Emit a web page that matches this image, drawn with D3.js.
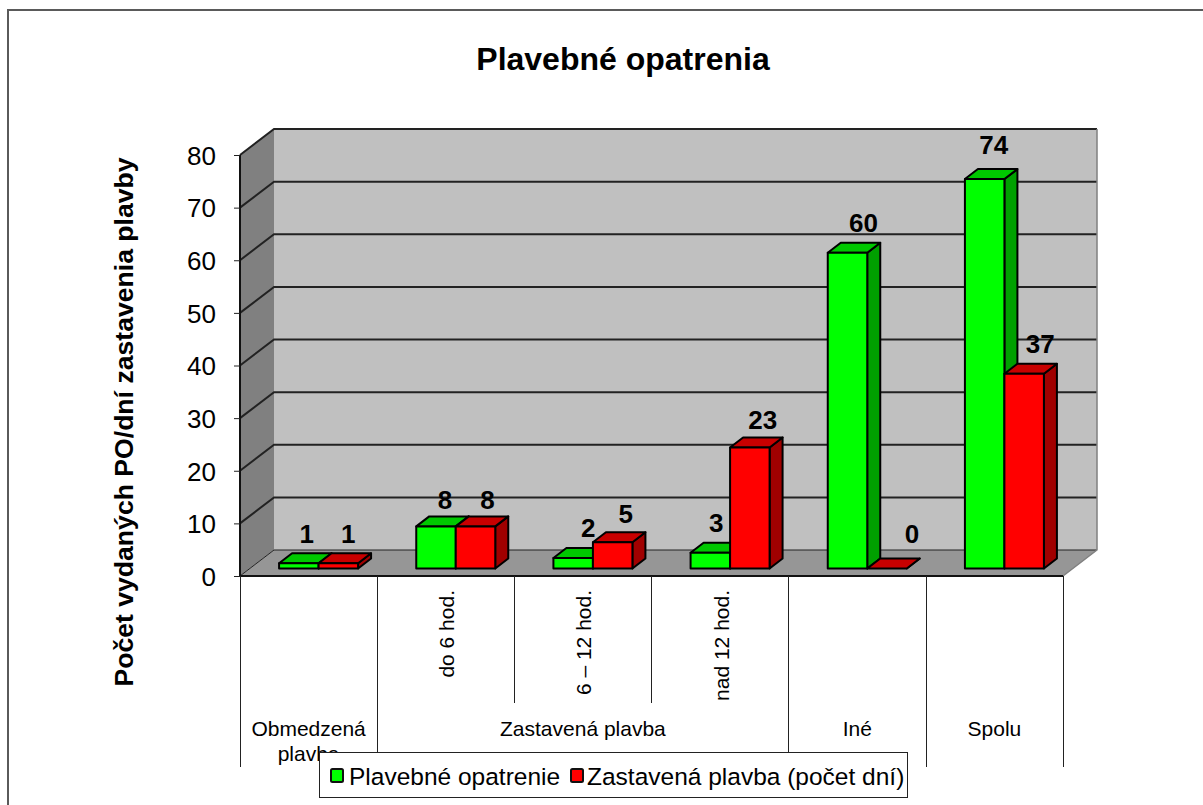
<!DOCTYPE html>
<html>
<head>
<meta charset="utf-8">
<script src="https://cdn.jsdelivr.net/npm/d3@7"></script>
<style>
html,body{margin:0;padding:0;background:#fff;overflow:hidden;}
text{font-family:"Liberation Sans",Arial,sans-serif;fill:#000;}
</style>
</head>
<body>
<div id="chart"></div>
<script>
var categories=["Obmedzená plavba","do 6 hod.","6 – 12 hod.","nad 12 hod.","Iné","Spolu"];
var seriesNames=["Plavebné opatrenie","Zastavená plavba (počet dní)"];
var opatrenie=[1,8,2,3,60,74];
var zastavena=[1,8,5,23,0,37];
var yTicks=[0,10,20,30,40,50,60,70,80];

var svg=d3.select("#chart").append("svg").attr("width",1203).attr("height",805).style("display","block");

var x=d3.scaleBand().domain(categories).range([240,1063]);
var y=d3.scaleLinear().domain([0,80]).range([576,155]);

// 3d offsets: wall depth and bar depth
var wallDx=34,wallDy=-26,barOffX=10,barOffY=-7.5,barDx=13,barDy=-10;
var barW=39.5;
var colors=[{front:"#00ff00",top:"#00c800",side:"#00a000"},{front:"#ff0000",top:"#c80000",side:"#a00000"}];

function poly(pts,fill,stroke,sw){
    return svg.append("polygon").attr("points",pts.map(function(p){return p.join(",");}).join(" "))
        .attr("fill",fill).attr("stroke",stroke||"none").attr("stroke-width",sw||0).attr("stroke-linejoin","round");
}

// chart frame, runs off the right and bottom of the picture
svg.append("rect").attr("x",8).attr("y",10).attr("width",1300).attr("height",900).attr("fill","#fff").attr("stroke","#5a5a5a").attr("stroke-width",2);

var x0=x.range()[0],x1=x.range()[1],yb=y(0),yt=y(80);

// walls
poly([[x0,yt],[x0+wallDx,yt+wallDy],[x0+wallDx,yb+wallDy],[x0,yb]],"#808080");
poly([[x0+wallDx,yt+wallDy],[x1+wallDx,yt+wallDy],[x1+wallDx,yb+wallDy],[x0+wallDx,yb+wallDy]],"#c0c0c0");
poly([[x0,yb],[x0+wallDx,yb+wallDy],[x1+wallDx,yb+wallDy],[x1,yb]],"#969696");

// grid lines
yTicks.forEach(function(t){
    var yy=y(t);
    svg.append("path").attr("d","M"+x0+","+yy+"L"+(x0+wallDx)+","+(yy+wallDy)+"L"+(x1+wallDx)+","+(yy+wallDy))
        .attr("fill","none").attr("stroke","#222").attr("stroke-width",t==0?1:2);
});
svg.append("path").attr("d","M"+(x1+wallDx)+","+(yt+wallDy)+"V"+(yb+wallDy)+"L"+x1+","+yb)
    .attr("fill","none").attr("stroke","#808080").attr("stroke-width",1.5);
svg.append("path").attr("d","M"+x0+","+yt+"V"+yb+"H"+x1).attr("fill","none").attr("stroke","#111").attr("stroke-width",2);

// y axis
var yAxis=d3.axisLeft(y).tickValues(yTicks).tickSize(6).tickPadding(18).tickSizeOuter(0);
var yg=svg.append("g").attr("transform","translate(240,1)").call(yAxis);
yg.select(".domain").remove();
yg.selectAll("text").style("font-size","26px").style("font-family","Liberation Sans");
yg.selectAll("line").attr("stroke","#222").attr("transform","translate(0,-1)");

// bars
[opatrenie,zastavena].forEach(function(vals,s){
    var c=colors[s];
    vals.forEach(function(v,i){
        var l=x(categories[i])+(x.bandwidth()-2*barW)/2+barOffX+s*barW;
        var r=l+barW,b=yb+barOffY,t=y(v)+barOffY;
        poly([[r,t],[r+barDx,t+barDy],[r+barDx,b+barDy],[r,b]],c.side,"#000",2);
        poly([[l,t],[l+barDx,t+barDy],[r+barDx,t+barDy],[r,t]],c.top,"#000",2);
        if(v>0) poly([[l,t],[r,t],[r,b],[l,b]],c.front,"#000",2);
    });
});

// value labels, nudged by hand like the original chart
var labelDx=[[8,10],[9,12],[15,13],[6,13],[16,25],[9,16]];
var labelDy=[[2,2],[5,5],[1,3],[1,4],[1,-4],[-3,1]];
[opatrenie,zastavena].forEach(function(vals,s){
    vals.forEach(function(v,i){
        var l=x(categories[i])+(x.bandwidth()-2*barW)/2+barOffX+s*barW;
        svg.append("text").attr("x",l+barW/2+labelDx[i][s]).attr("y",y(v)+barOffY-22+labelDy[i][s])
            .attr("text-anchor","middle").style("font-size","26px").style("font-weight","bold").text(v);
    });
});

// category separators
var step=x.step();
function sepX(n){return Math.round(x0+n*step-.2)+.5;}
[0,1,4,5,6].forEach(function(n){svg.append("line").attr("x1",sepX(n)).attr("x2",sepX(n)).attr("y1",576).attr("y2",767).attr("stroke","#222");});
[2,3].forEach(function(n){svg.append("line").attr("x1",sepX(n)).attr("x2",sepX(n)).attr("y1",576).attr("y2",703).attr("stroke","#222");});

// category labels
function catCenter(n){return x(categories[n])+x.bandwidth()/2;}
function lab(px,py,s){return svg.append("text").attr("x",px).attr("y",py).attr("text-anchor","middle").style("font-size","21px").text(s);}
lab(catCenter(0),736,"Obmedzená");
lab(catCenter(0),761,"plavba");
lab((catCenter(1)+catCenter(3))/2,736,"Zastavená plavba");
lab(catCenter(4),736,categories[4]);
lab(catCenter(5),736,categories[5]);
[1,2,3].forEach(function(i){
    svg.append("text").attr("transform","translate("+(catCenter(i)+8.5)+",590) rotate(-90)")
        .attr("text-anchor","end").style("font-size","21px").text(categories[i]);
});

// titles
svg.append("text").attr("x",623).attr("y",70).attr("text-anchor","middle").style("font-size","32px").style("font-weight","bold").text("Plavebné opatrenia");
svg.append("text").attr("transform","translate(133,422) rotate(-90)").attr("text-anchor","middle").style("font-size","26.6px").style("font-weight","bold").text("Počet vydaných PO/dní zastavenia plavby");

// legend
svg.append("rect").attr("x",319.5).attr("y",752.5).attr("width",588).attr("height",45).attr("fill","#fff").attr("stroke","#222");
[[331,349],[571,587]].forEach(function(p,i){
    svg.append("rect").attr("x",p[0]).attr("y",769).attr("width",12).attr("height",13).attr("rx",1.5).attr("fill",colors[i].front).attr("stroke","#111").attr("stroke-width",2);
    svg.append("text").attr("x",p[1]).attr("y",785).style("font-size","24.5px").text(seriesNames[i]);
});
</script>
</body>
</html>
